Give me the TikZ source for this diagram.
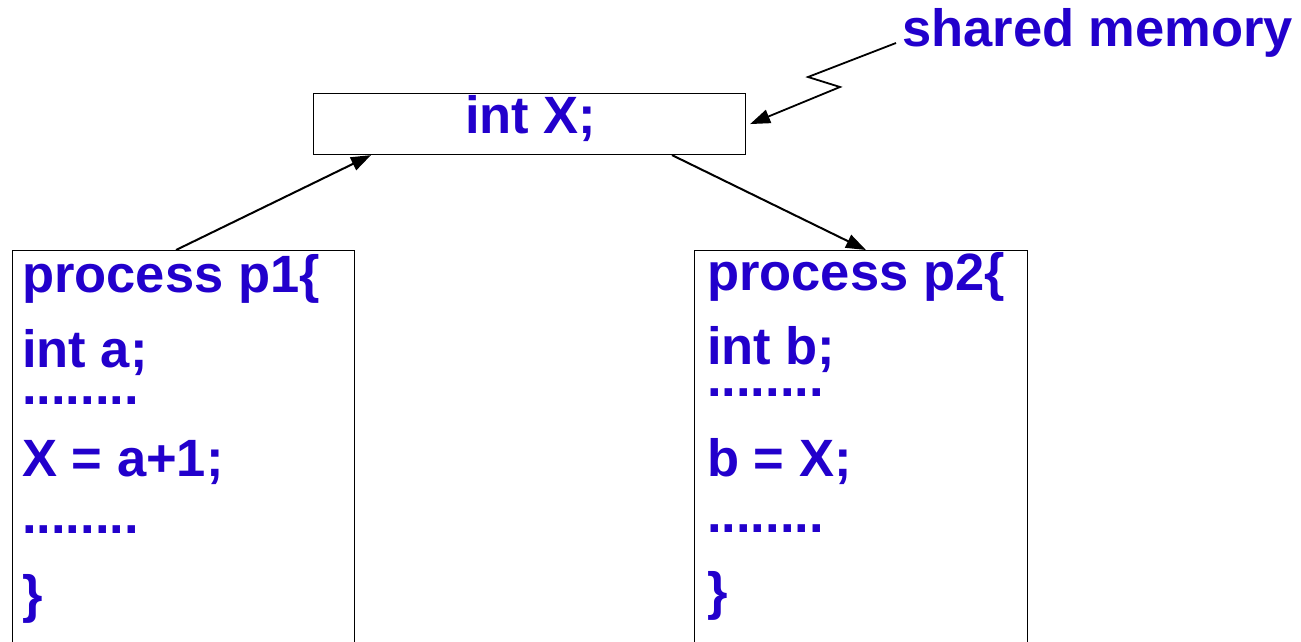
\documentclass[tikz,border=0pt]{standalone}
\usepackage{fontspec}
\setmainfont{Liberation Sans}
\usetikzlibrary{arrows.meta}
\definecolor{codeblue}{RGB}{34,0,204}
\begin{document}
\begin{tikzpicture}[x=1pt,y=-1pt,
  txt/.style={anchor=base west,inner sep=0pt,text=codeblue,font=\fontsize{52.5}{60}\selectfont\bfseries},
  box/.style={draw,line width=1.1pt,inner sep=0pt,fill=white},
  arr/.style={line width=2pt,-{Triangle[length=20pt,width=14pt]}}]
\useasboundingbox (0,0) rectangle (1301,641);
\clip (0,0) rectangle (1301,641);
% shared memory box
\node[box,anchor=north west,minimum width=432pt,minimum height=61pt] (mem) at (313,93) {};
\node[txt] (memtxt) at (465,133) {int X;};
% process boxes
\node[box,anchor=north west,minimum width=342pt,minimum height=420pt] (p1) at (12,250) {};
\node[box,anchor=north west,minimum width=333pt,minimum height=420pt] (p2) at (694,250) {};
% p1 code
\node[txt] (a1) at (22,292) {process p1\{};
\node[txt] (a2) at (22,367) {int a;};
\node[txt] (a3) at (22,404) {........};
\node[txt] (a4) at (22,476) {X = a+1;};
\node[txt] (a5) at (22,533) {........};
\node[txt] (a6) at (22,612) {\}};
% p2 code
\node[txt] (b1) at (707,290) {process p2\{};
\node[txt] (b2) at (707,364) {int b;};
\node[txt] (b3) at (707,396) {........};
\node[txt] (b4) at (707,476) {b = X;};
\node[txt] (b5) at (707,532) {........};
\node[txt] (b6) at (707,609) {\}};
% label
\node[txt] (sm) at (902,46) {shared memory};
\coordinate (z0) at (896,43);
\coordinate (z1) at (808,77);
\coordinate (z2) at (840,87);
% connectors
\draw[arr] ([xshift=164pt]p1.north west) -- ([xshift=58pt]mem.south west);
\draw[arr] ([xshift=359pt]mem.south west) -- ([xshift=172pt]p2.north west);
\draw[arr,line width=1.8pt] (z0) -- (z1) -- (z2) -- ([xshift=4pt]mem.east);
\end{tikzpicture}
\end{document}
